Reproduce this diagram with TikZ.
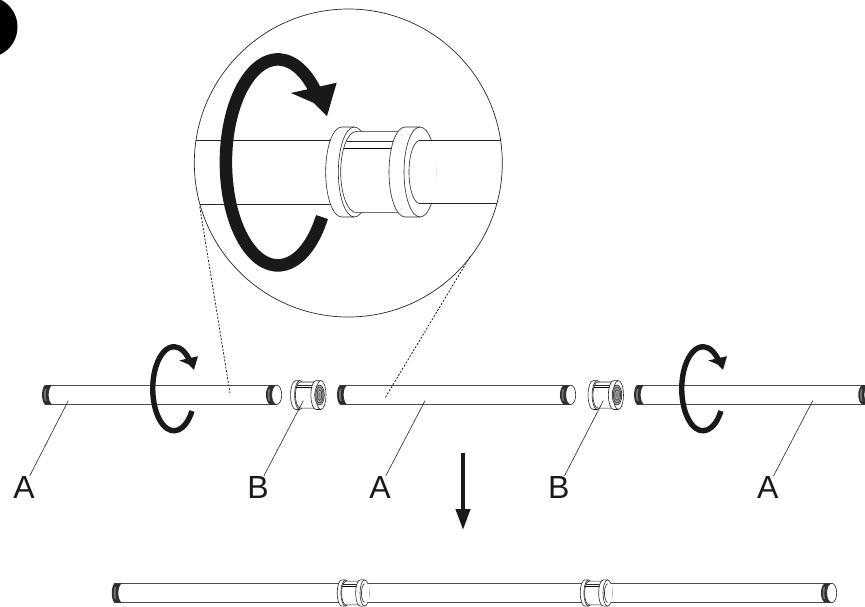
\documentclass[tikz,border=0pt]{standalone}
\usepackage{fontspec}
\setmainfont{Liberation Sans}
\usetikzlibrary{arrows.meta}
\tikzset{
    thinline/.style={line width=0.6pt, black!85},
    pipeline/.style={line width=1pt, black!70},
    dotline/.style={line width=0.7pt, black, dash pattern=on 2pt off 1.6pt},
    threadfill/.style={fill=black!82},
    letter/.style={font=\fontsize{32}{32}\selectfont, inner sep=0pt, text=black!90},
    % rotation mark, drawn at the size of the one in the round detail
    pics/turnmark/.style={code={
        \draw[line width=#1, black!90] (44,54) arc (32:320:52 and 103);
        \fill[black!90] (13,-70) -- (58.7,-80.3) -- (49,-47) -- (36,-60) -- cycle;
    }},
    % pipe coupling
    pics/collar/.style={code={
        \filldraw[thinline, fill=white] (-115,-135) arc (270:90:48 and 135) -- (-77,135)
            arc (90:-90:48 and 135) -- cycle;
        \draw[thinline] (-77,-135) arc (270:90:48 and 135);
        \filldraw[thinline, fill=white] (-70,-122) arc (270:90:48 and 122) -- (70,122) -- (70,-122) -- cycle;
        \draw[thinline] (-100,-91) -- (40,-91);
        \draw[line width=0.9pt, black] (-109,-70) -- (38,-70);
        \filldraw[thinline, fill=white] (75,-135) arc (270:90:48 and 135) -- (120,135)
            arc (90:-90:48 and 135) -- cycle;
        \draw[thinline] (120,-135) arc (270:90:48 and 135);
    }},
    pics/collarpipe/.style={code={
        \fill[white] (120,-95) arc (270:90:33 and 95) -- (170,95) -- (170,-95) -- cycle;
        \draw[thinline] (120,-95) arc (270:90:33 and 95);
    }},
    pics/threadhole/.style={code={
        \filldraw[thinline, fill=black!30] (0,0) ellipse (4.8 and 10);
        \draw[line width=0.7pt, black!75] (0,0) ellipse (3.6 and 7.8);
        \draw[line width=0.7pt, black!75] (0,0) ellipse (2.4 and 5.4);
        \fill[black!50] (0,0) ellipse (1.2 and 3);
    }},
    pics/threadleft/.style={code={
        \fill[threadfill] (10,-9.7) -- (3,-9.7) .. controls (-0.9,-7) and (-0.9,7) .. (3,9.7)
            -- (10,9.7) .. controls (5.5,6) and (5.5,-6) .. (10,-9.7) -- cycle;
        \fill[black!55] (3,-6) .. controls (1.6,-3) and (1.6,3) .. (3,6)
            -- (4.6,6) .. controls (3.6,3) and (3.6,-3) .. (4.6,-6) -- cycle;
    }},
    pics/threadright/.style={code={
        \fill[threadfill] (-12,-9.7) .. controls (-17,-6) and (-17,6) .. (-12,9.7)
            -- (-5,9.7) -- (-5,-9.7) -- cycle;
        \fill[black!55] (-13,-6) .. controls (-14.4,-3) and (-14.4,3) .. (-13,6)
            -- (-11.4,6) .. controls (-12.6,3) and (-12.6,-3) .. (-11.4,-6) -- cycle;
        \filldraw[thinline, fill=white] (-5,0) ellipse (5 and 9.7);
    }},
}
\begin{document}
\begin{tikzpicture}[x=1pt, y=-1pt]
    \path[use as bounding box, clip] (0,0) rectangle (865,606);
    % Step marker
    \fill[black] (-13,27) circle (30.5);
    % Round detail
    \coordinate (dotLeftTop) at (199.7,206.7);
    \coordinate (dotLeftEnd) at (230,393);
    \coordinate (dotRightTop) at (470,256.7);
    \coordinate (dotRightEnd) at (385,398);
    \draw[dotline] (dotLeftTop) -- (dotLeftEnd);
    \draw[dotline] (dotRightTop) -- (dotRightEnd);
    \draw[line width=0.7pt, black!85] (348.3,163) circle (154);
    \draw[thinline] (196,140) -- (340,140);
    \draw[thinline] (200,204) -- (340,204);
    \pic[scale=0.3333] at (380,172) {collar};
    \pic[scale=0.3333] at (380,172) {collarpipe};
    \draw[thinline] (420,140.3) -- (500.6,140.3);
    \draw[thinline] (420,203.7) -- (496.7,203.7);
    \pic at (278,163) {turnmark=12.5};
    % Parts before joining
    \foreach \xl/\xr in {42/281.7, 337/575.7, 634/874} {
        \draw[pipeline] (\xl+3,385.3) -- (\xr-5,385.3);
        \draw[pipeline] (\xl+3,404.3) -- (\xr-5,404.3);
        \pic at (\xl,394.8) {threadleft};
        \pic at (\xr,394.8) {threadright};
    }
    \foreach \xc in {308, 605.5} {
        \pic[scale=0.107] at (\xc,395) {collar};
        \pic at (\xc+11.5,395) {threadhole};
    }
    \foreach \xc in {174, 703} {
        \pic[scale=0.408] at (\xc,389) {turnmark=5.4};
    }
    % Letters and their leaders
    \foreach \nm/\lbl/\xa/\xb in {partA/A/24/68.3, partB/B/258/303.3, partC/A/380/425, partD/B/558.7/603.3, partE/A/767.7/812.7} {
        \node[letter] (\nm) at (\xa,487) {\lbl};
        \coordinate (\nm tip) at (\xb,400.7);
        \draw[thinline] (\nm) -- (\nm tip);
    }
    % Down arrow
    \coordinate (stepTop) at (463,453);
    \coordinate (stepTip) at (463,530);
    \draw[line width=4pt, black!90, -{Triangle[length=21pt, width=14pt]}] (stepTop) -- (stepTip);
    % Joined pipe
    \draw[pipeline] (114,583.4) -- (832,583.4);
    \draw[pipeline] (114,602.6) -- (832,602.6);
    \foreach \xc in {353, 596} {
        \pic[scale=0.097] at (\xc,593) {collar};
        \pic[scale=0.097] at (\xc,593) {collarpipe};
    }
    \pic at (111.7,593) {threadleft};
    \pic at (836.7,593) {threadright};
\end{tikzpicture}
\end{document}
